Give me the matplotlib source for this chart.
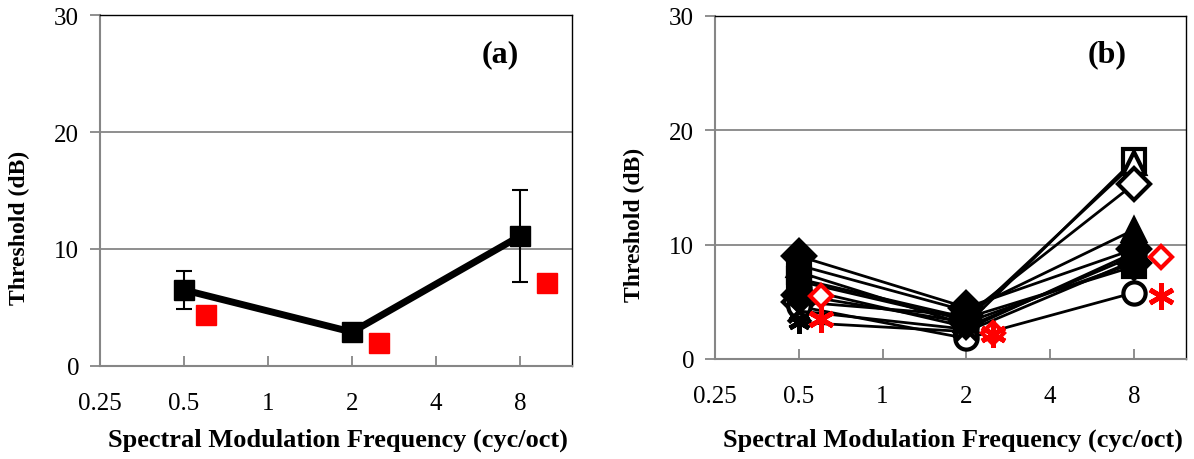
import matplotlib.pyplot as plt
import numpy as np

plt.rcParams['font.family'] = ['Liberation Serif', 'DejaVu Serif']

# spectral modulation frequencies (cyc/oct)
freqs = [0.5, 2, 8]
red_freqs = [0.6, 2.5, 10]

# panel (a): group mean with error bars, red comparison points
mean_thr = [6.5, 2.9, 11.1]
mean_err = [1.65, 0.4, 3.95]
red_thr_a = [4.4, 2.0, 7.1]

# panel (b): individual listeners (marker, filled?, thresholds)
listener_markers = ['s', '^', 'D', '^', 'D', 's', 'o', (6, 2, 0), 'o', 'D', 'x']
listener_filled = [False, False, False, True, True, True, True, True, False, True, True]
listener_thr = [
    [7.6, 3.0, 17.4],
    [6.8, 3.4, 17.1],
    [5.0, 3.8, 15.3],
    [8.2, 4.2, 11.3],
    [9.0, 4.5, 9.6],
    [7.0, 3.6, 8.1],
    [6.2, 2.8, 9.0],
    [3.2, 2.4, 8.6],
    [4.6, 1.8, 5.8],
    [5.6, 3.2, 8.4],
    [4.2, 2.6, 9.3],
]
red_diamond_thr = [5.5, 2.3, 8.9]
red_star_thr = [3.5, 2.2, 5.5]

xticks = [0.25, 0.5, 1, 2, 4, 8]
xticklabels = ['0.25', '0.5', '1', '2', '4', '8']
yticks = [0, 10, 20, 30]

GRAY = '#868686'


def style_axes(ax):
    ax.set_xscale('log', base=2)
    ax.set_xlim(0.25, 12.3)
    ax.set_ylim(0, 30)
    ax.set_xticks(xticks)
    ax.set_xticklabels(xticklabels)
    ax.xaxis.set_minor_locator(plt.NullLocator())
    ax.set_yticks(yticks)
    ax.tick_params(axis='x', direction='in', length=7, width=1.3, color=GRAY,
                   labelsize=18, pad=19)
    ax.tick_params(axis='y', direction='out', length=7, width=1.3, color=GRAY,
                   labelsize=18, pad=8)
    for y in [10, 20]:
        ax.axhline(y, color=GRAY, lw=1.3, zorder=0)
    ax.spines['left'].set_color(GRAY)
    ax.spines['bottom'].set_color(GRAY)
    ax.spines['left'].set_linewidth(1.5)
    ax.spines['bottom'].set_linewidth(1.5)
    ax.spines['top'].set_color('black')
    ax.spines['right'].set_color('black')
    ax.spines['top'].set_linewidth(1.0)
    ax.spines['right'].set_linewidth(1.0)


fig = plt.figure(figsize=(11.94, 4.60), dpi=100)
ax1 = fig.add_axes([0.0838, 0.2022, 0.3953, 0.763])
ax2 = fig.add_axes([0.5988, 0.2174, 0.3945, 0.7457])

# panel (a)
style_axes(ax1)
ax1.errorbar(freqs, mean_thr, yerr=mean_err, color='black', lw=5,
             marker='s', ms=15, ecolor='black', elinewidth=1.5,
             capsize=6, capthick=1.5, zorder=3)
ax1.plot(red_freqs, red_thr_a, 's', color='#ff0000', ms=14.5, ls='none', zorder=3)

# panel (b)
style_axes(ax2)
for mk, filled, thr in zip(listener_markers, listener_filled, listener_thr):
    mfc = 'black' if filled else 'white'
    mew = 3.5 if mk in ('x', (6, 2, 0)) else 3
    ax2.plot(freqs, thr, color='black', lw=2, marker=mk, ms=16,
             mfc=mfc, mec='black', mew=mew, zorder=3)
ax2.plot(red_freqs, red_diamond_thr, 'D', ms=11, mfc='white', mec='#ff0000',
         mew=3, ls='none', zorder=4)
ax2.plot(red_freqs, red_star_thr, marker=(6, 2, 0), ms=19, color='#ff0000',
         mew=3.5, ls='none', zorder=4)

for ax, lab, lx, xly in [(ax1, '(a)', 0.847, -0.208), (ax2, '(b)', 0.832, -0.233)]:
    ax.text(lx, 0.889, lab, transform=ax.transAxes, fontsize=23,
            fontweight='bold', ha='center', va='center')
    ax.text(0.505, xly, 'Spectral Modulation Frequency (cyc/oct)',
            transform=ax.transAxes, fontsize=19, fontweight='bold',
            ha='center', va='center')
    ax.text(-0.17, 0.395, 'Threshold (dB)', transform=ax.transAxes,
            fontsize=17, fontweight='bold', rotation=90,
            ha='center', va='center')

fig.savefig('out.png', dpi=100)
